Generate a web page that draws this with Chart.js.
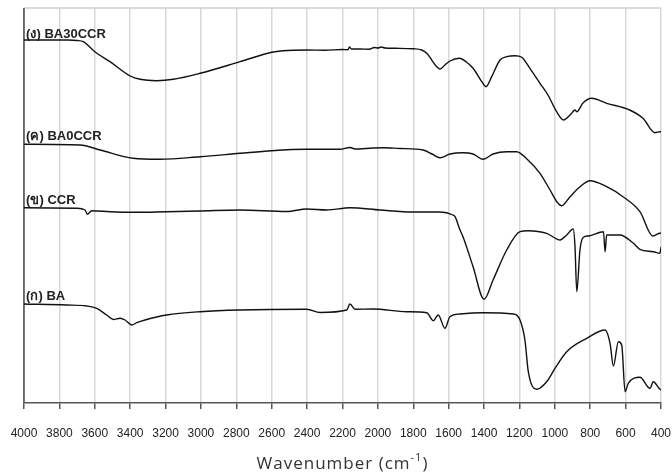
<!DOCTYPE html>
<html>
<head>
<meta charset="utf-8">
<script src="https://cdn.jsdelivr.net/npm/chart.js@4"></script>
<style>
  body { margin: 0; background: #fff; }
  canvas { display: block; }
</style>
</head>
<body>
<canvas id="ftir" width="672" height="475"></canvas>
<script>
// wavenumber (cm-1), offset transmittance (arbitrary units)
const ba30ccr = [
  [4000, 363], [3750, 363], [3700, 362.5], [3665, 361.3], [3600, 351.3], [3514, 341.3],
  [3400, 327], [3344, 323.7], [3250, 322.3], [3156, 323.7], [3005, 329.7], [2779, 341.3],
  [2600, 350.7], [2536, 352.3], [2400, 353], [2300, 352.7], [2200, 353.5], [2170, 353.2],
  [2160, 356], [2150, 354], [2100, 354], [2050, 353.8], [2020, 355.5], [2000, 355],
  [1980, 356], [1960, 355], [1900, 354.7], [1800, 354.2], [1752, 353], [1720, 349],
  [1696, 343], [1668, 336.3], [1649, 334], [1621, 338], [1593, 342], [1540, 344.7],
  [1500, 341], [1462, 334.7], [1413, 321.3], [1389, 316.3], [1357, 326.3], [1310, 343],
  [1272, 346.3], [1225, 347.3], [1187, 345.7], [1141, 334.7], [1084, 319.7], [1039, 308],
  [990, 291.3], [951, 283], [914, 288], [886, 293], [876, 291.3], [841, 300], [792, 304.7],
  [707, 299.7], [577, 293], [502, 284.7], [434, 270.3], [406, 271.3], [400, 271.3]
];
const ba0ccr = [
  [4000, 258.7], [3684, 258], [3570, 253], [3384, 244.7], [3231, 243.7], [3005, 246.3],
  [2779, 249.7], [2600, 252.3], [2402, 253.7], [2214, 253.7], [2158, 255.5], [2129, 254],
  [2028, 255], [1971, 255.3], [1875, 254.5], [1745, 253], [1694, 249], [1649, 245.3],
  [1593, 249], [1519, 250.3], [1462, 249], [1406, 243.7], [1349, 249], [1272, 251.3],
  [1216, 251.3], [1152, 243], [1084, 229.7], [1027, 213], [989, 201.3], [961, 197.3],
  [914, 206.3], [858, 216.3], [801, 222.3], [707, 216.3], [615, 206.3], [519, 191.3],
  [446, 167], [406, 169.7], [400, 169.7]
];
const ccr = [
  [4000, 195.3], [3702, 194.7], [3655, 193], [3642, 188.7], [3617, 192.3], [3514, 191.3],
  [3384, 190.7], [3194, 191.3], [3005, 192], [2779, 193], [2515, 191.5], [2402, 194],
  [2289, 193], [2158, 195.3], [1988, 193], [1802, 191], [1649, 191], [1576, 188],
  [1564, 186.3], [1536, 173], [1519, 166.3], [1462, 136.3], [1400, 103.7], [1349, 123],
  [1272, 153], [1197, 171.3], [1152, 172.3], [1046, 169.7], [970, 163], [933, 168],
  [896, 174], [886, 156.3], [876, 111.3], [858, 153], [839, 165.7], [810, 167],
  [725, 171.3], [716, 151.3], [707, 168], [632, 168], [556, 159.7], [519, 153.7],
  [443, 151.3], [406, 149.7], [400, 156]
];
const ba = [
  [4000, 99], [3759, 98], [3646, 97], [3589, 94.7], [3533, 88], [3495, 83.5], [3457, 84.7],
  [3429, 83], [3391, 78], [3363, 80.3], [3316, 83], [3194, 88], [3005, 91.3], [2779, 93],
  [2402, 93.7], [2327, 90.5], [2176, 93], [2158, 99], [2129, 93.7], [2028, 94], [1837, 91.3],
  [1724, 90.3], [1687, 82.3], [1659, 88], [1621, 74.7], [1593, 86.3], [1536, 89], [1404, 90.3],
  [1235, 89], [1197, 83], [1169, 63], [1150, 31.3], [1103, 13.7], [1046, 21.3], [999, 34.7],
  [933, 51.3], [820, 64.7], [716, 73], [688, 59.7], [669, 37], [641, 61.3], [622, 58],
  [603, 11.3], [585, 19.7], [519, 25.7], [462, 14.7], [444, 21.3], [406, 13.7], [400, 13]
];
const seriesNames = ["(ง) BA30CCR", "(ค) BA0CCR", "(ข) CCR", "(ก) BA"];
const seriesData = [ba30ccr, ba0ccr, ccr, ba];

const toPoints = arr => arr.map(p => ({ x: p[0], y: p[1] }));

// curve names, written just above where each curve starts
const curveLabels = {
  id: "curveLabels",
  afterDatasetsDraw(chart) {
    const ctx = chart.ctx;
    const xs = chart.scales.x, ys = chart.scales.y;
    ctx.save();
    ctx.font = "bold 13px 'Liberation Sans', Arial, sans-serif";
    ctx.fillStyle = "#222";
    ctx.textAlign = "left";
    ctx.textBaseline = "alphabetic";
    seriesData.forEach((d, i) => {
      const x = xs.getPixelForValue(3988);
      const y = ys.getPixelForValue(d[0][1]) - (i === 0 ? 2 : 4);
      ctx.fillText(seriesNames[i], x, y);
    });
    ctx.restore();
  }
};

const frame = {
  id: "frame",
  beforeDatasetsDraw(chart) {
    const { ctx, chartArea } = chart;
    ctx.save();
    ctx.strokeStyle = "#cfcfcf";
    ctx.lineWidth = 1.5;
    ctx.beginPath();
    ctx.moveTo(chartArea.left, chartArea.top);
    ctx.lineTo(chartArea.right, chartArea.top);
    ctx.stroke();
    ctx.strokeStyle = "#666";
    ctx.beginPath();
    ctx.moveTo(chartArea.left, chartArea.top);
    ctx.lineTo(chartArea.left, chartArea.bottom);
    ctx.stroke();
    ctx.restore();
  },
  afterDraw(chart) {
    const { ctx, chartArea } = chart;
    const main = "Wavenumber (cm", sup = "-1", tail = ")";
    ctx.save();
    ctx.fillStyle = "#333";
    ctx.textBaseline = "alphabetic";
    ctx.letterSpacing = "1px";
    ctx.font = "17px 'Open Sans', sans-serif";
    const w1 = ctx.measureText(main).width, w3 = ctx.measureText(tail).width;
    ctx.font = "11px 'Open Sans', sans-serif";
    const w2 = ctx.measureText(sup).width;
    let x = (chartArea.left + chartArea.right) / 2 - (w1 + w2 + w3) / 2;
    const y = 469;
    ctx.font = "17px 'Open Sans', sans-serif";
    ctx.fillText(main, x, y);
    x += w1;
    ctx.font = "11px 'Open Sans', sans-serif";
    ctx.fillText(sup, x, y - 8);
    x += w2;
    ctx.font = "17px 'Open Sans', sans-serif";
    ctx.fillText(tail, x, y);
    ctx.restore();
  }
};

const chart = new Chart(document.getElementById("ftir").getContext("2d"), {
  type: "line",
  data: {
    datasets: seriesData.map((d, i) => ({
      label: seriesNames[i],
      data: toPoints(d),
      borderColor: "#111",
      borderWidth: 1.4,
      pointRadius: 0,
      fill: false,
      cubicInterpolationMode: "monotone"
    }))
  },
  options: {
    responsive: false,
    animation: false,
    layout: { padding: { left: 24, right: 11, top: 8, bottom: 0 } },
    plugins: { legend: { display: false }, tooltip: { enabled: false } },
    scales: {
      x: {
        type: "linear",
        reverse: true,
        min: 400,
        max: 4000,
        afterFit: s => { s.height = 72; s.paddingLeft = 0; s.paddingRight = 0; },
        ticks: {
          stepSize: 200,
          padding: 17,
          color: "#222",
          font: { family: "'Liberation Sans', Arial, sans-serif", size: 12 },
          maxRotation: 0,
          autoSkip: false,
          callback: v => String(v)
        },
        grid: {
          color: c => (c.tick && c.tick.value === 4000 ? "#666" : "#d8d8d8"),
          lineWidth: 1.5,
          tickColor: "#555",
          tickLength: 6
        },
        border: { color: "#555", width: 1.5 }
      },
      y: {
        display: false,
        min: 0,
        max: 395
      }
    }
  },
  plugins: [frame, curveLabels]
});
</script>
</body>
</html>
